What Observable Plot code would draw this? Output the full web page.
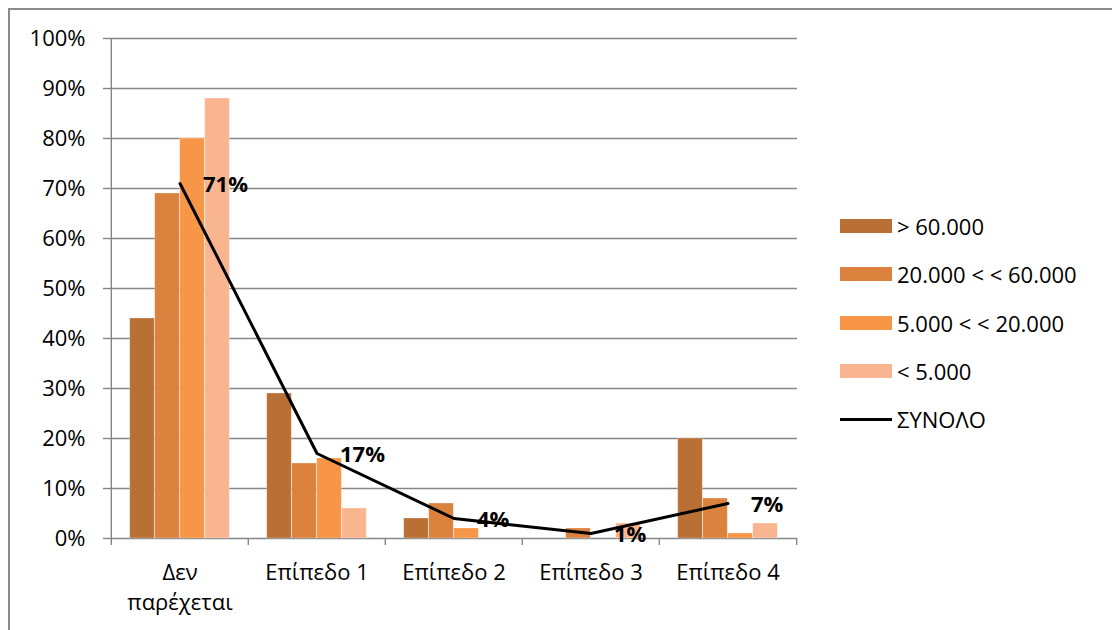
<!DOCTYPE html>
<html><head><meta charset="utf-8">
<script src="https://cdn.jsdelivr.net/npm/d3@7"></script>
<script src="https://cdn.jsdelivr.net/npm/@observablehq/plot@0.6"></script>
<style>
body{margin:0;background:#fff;font-family:"Open Sans",sans-serif;}
#wrap{position:relative;width:1112px;height:630px;overflow:hidden;}
#frame{position:absolute;left:8px;top:8px;width:1200px;height:700px;border-top:2px solid #8c8c8c;border-left:2px solid #8c8c8c;pointer-events:none;}
#chart{position:absolute;left:0;top:0;}
#legend{position:absolute;left:840px;top:202px;}
.item{display:flex;align-items:center;height:48.3px;font-size:22px;color:#000;white-space:nowrap;}
.sw{width:52px;height:14px;margin-right:5px;}
.ln{width:52px;height:3px;background:#000;margin-right:5px;}
</style></head><body>
<div id="wrap"><div id="chart"></div><div id="frame"></div><div id="legend"></div></div>
<script>
const categories = ["Δεν\nπαρέχεται", "Επίπεδο 1", "Επίπεδο 2", "Επίπεδο 3", "Επίπεδο 4"];
const seriesNames = ["> 60.000", "20.000 < < 60.000", "5.000 < < 20.000", "< 5.000"];
const over60k      = [44, 29, 4, 0, 20];
const from20kTo60k = [69, 15, 7, 2, 8];
const from5kTo20k  = [80, 16, 2, 0, 1];
const under5k      = [88, 6, 0, 3, 3];
const totalName = "ΣΥΝΟΛΟ";
const total = [71, 17, 4, 1, 7];
const yTicks = [0, 10, 20, 30, 40, 50, 60, 70, 80, 90, 100];
const colors = ["#B87034", "#DB823F", "#F79646", "#F9B590"];

const seriesValues = [over60k, from20kTo60k, from5kTo20k, under5k];
const rows = [];
seriesValues.forEach((vals, j) => categories.forEach((c, i) => rows.push({category: c, series: seriesNames[j], j, value: vals[i]})));
const totalRows = categories.map((c, i) => ({category: c, value: total[i]}));

const W = 1112, H = 630, mL = 110, mR = 315, mT = 38, mB = 92;
const bw = (W - mL - mR) / categories.length;
const barW = 25;
const off = (bw - seriesNames.length * barW) / 2;
const grid = "#868686";

const marks = [
  Plot.ruleY(yTicks, {stroke: grid, strokeWidth: 1.4}),
  Plot.ruleX([categories[0]], {dx: -bw / 2, y1: 0, y2: 100, stroke: grid, strokeWidth: 1.4}),
  Plot.ruleX(categories, {dx: -bw / 2, y1: 0, y2: -1.4, stroke: grid, strokeWidth: 1.4}),
  Plot.ruleX([categories[categories.length - 1]], {dx: bw / 2, y1: 0, y2: -1.4, stroke: grid, strokeWidth: 1.4})
];
seriesNames.forEach((s, j) => {
  marks.push(Plot.barY(rows.filter(d => d.j === j), {
    x: "category", y: "value", fill: colors[j],
    stroke: "#fff", strokeOpacity: 0.35, strokeWidth: 0.8,
    insetLeft: off + j * barW, insetRight: bw - off - (j + 1) * barW
  }));
});
marks.push(
  Plot.line(totalRows, {x: "category", y: "value", stroke: "#000", strokeWidth: 3}),
  Plot.text(totalRows, {x: "category", y: "value", text: d => d.value + "%", textAnchor: "start", dx: 23, dy: 1, fontSize: 22, fontWeight: "bold", fill: "#000"}),
  Plot.axisY(yTicks, {label: null, tickFormat: d => d + "%", tickSize: 7, tickPadding: 18, fontSize: 22, stroke: grid, fill: "#000", strokeWidth: 1.4}),
  Plot.axisX({label: null, tickSize: 0, tickPadding: 20, fontSize: 22, fill: "#000", lineHeight: 1.38})
);

const chart = Plot.plot({
  width: W, height: H,
  marginLeft: mL, marginRight: mR, marginTop: mT, marginBottom: mB,
  style: {fontFamily: "'Open Sans', sans-serif", background: "transparent", overflow: "visible"},
  x: {domain: categories, padding: 0, axis: null, label: null},
  y: {domain: [0, 100], axis: null, label: null},
  marks
});
document.getElementById("chart").appendChild(chart);

const legend = document.getElementById("legend");
seriesNames.forEach((s, j) => {
  const it = document.createElement("div"); it.className = "item";
  it.innerHTML = `<span class="sw" style="background:${colors[j]}"></span><span></span>`;
  it.lastChild.textContent = s;
  legend.appendChild(it);
});
const it = document.createElement("div"); it.className = "item";
it.innerHTML = `<span class="ln"></span><span></span>`;
it.lastChild.textContent = totalName;
legend.appendChild(it);
</script>
</body></html>
